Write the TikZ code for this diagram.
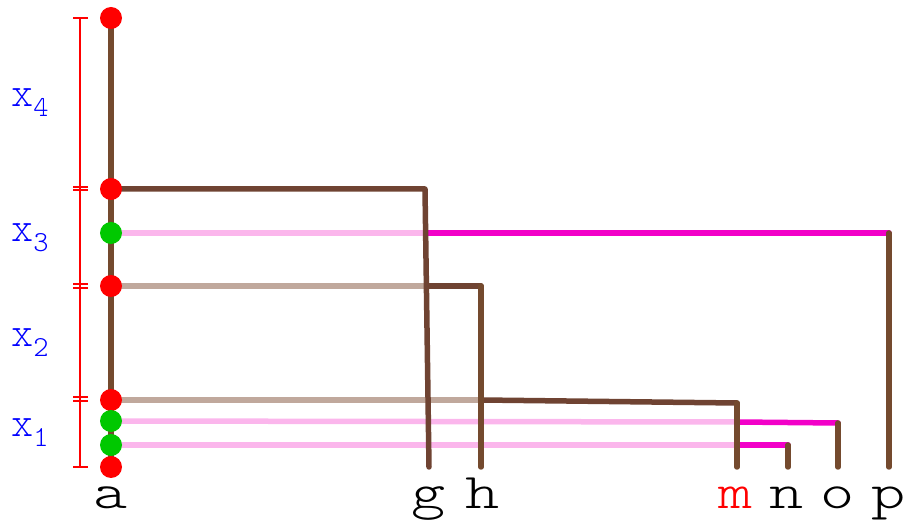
\documentclass[tikz,border=0pt]{standalone}
\definecolor{trunk}{HTML}{744A2E}
\definecolor{dbrown}{HTML}{6F4332}
\definecolor{taupe}{HTML}{C0A89C}
\definecolor{lpink}{HTML}{FBB6EC}
\definecolor{mag}{HTML}{F200C8}
\definecolor{rdot}{HTML}{FF0000}
\definecolor{gdot}{HTML}{00C800}
\newcommand{\xsub}[1]{x\raisebox{-10pt}{\fontsize{29}{29}\selectfont #1}}
\tikzset{
  reddot/.style={circle,fill=rdot,inner sep=0pt,minimum size=22pt},
  greendot/.style={circle,fill=gdot,inner sep=0pt,minimum size=22pt},
  seg/.style={line width=5.5pt,line cap=round,line join=round},
  flat/.style={line width=5.5pt,line cap=butt},
  dim/.style={draw=red,line width=1.4pt},
  leaf/.style={inner sep=0pt,anchor=base,font=\ttfamily\fontseries{l}\fontsize{50}{50}\selectfont},
  xlab/.style={inner sep=0pt,anchor=base west,text=blue,font=\ttfamily\fontseries{l}\fontsize{42}{42}\selectfont},
}
\begin{document}
\begin{tikzpicture}[x=1pt,y=-1pt]
\useasboundingbox (0,0) rectangle (906,521);
% coordinates along the trunk
\coordinate (t0) at (111,18);
\coordinate (t1) at (111,189);
\coordinate (t2) at (111,233);
\coordinate (t3) at (111,286);
\coordinate (t4) at (111,400);
\coordinate (t5) at (111,421);
\coordinate (t6) at (111,445);
\coordinate (t7) at (111,467);
% junction / corner coordinates
\coordinate (g1) at (425,189);
\coordinate (gb) at (429,467);
\coordinate (j3) at (427,233);
\coordinate (p1) at (889,233);
\coordinate (pb) at (889,467);
\coordinate (j2) at (427,286);
\coordinate (h1) at (481,286);
\coordinate (hb) at (481,467);
\coordinate (j4) at (481,400);
\coordinate (m1) at (737,403);
\coordinate (mb) at (737,467);
\coordinate (j5) at (737,422);
\coordinate (o1) at (838,423);
\coordinate (ob) at (838,467);
\coordinate (j6) at (737,445);
\coordinate (n1) at (788,445);
\coordinate (nb) at (788,467);
% trunk
\draw[flat,draw=trunk] (t0) -- (t7);
% horizontal segments
\draw[flat,draw=lpink] (t2) -- (j3);
\draw[seg,draw=mag] (j3) -- (p1);
\draw[flat,draw=taupe] (t3) -- (j2);
\draw[seg,draw=dbrown] (j2) -- (h1);
\draw[flat,draw=taupe] (t4) -- (j4);
\draw[seg,draw=dbrown] (j4) -- (m1);
\draw[flat,draw=lpink] (t5) -- (j5);
\draw[seg,draw=mag] (j5) -- (o1);
\draw[flat,draw=lpink] (t6) -- (j6);
\draw[seg,draw=mag] (j6) -- (n1);
% verticals
\draw[seg,draw=dbrown] (t1) -- (g1) -- (gb);
\draw[seg,draw=trunk] (h1) -- (hb);
\draw[seg,draw=trunk] (m1) -- (mb);
\draw[seg,draw=trunk] (o1) -- (ob);
\draw[seg,draw=trunk] (n1) -- (nb);
\draw[seg,draw=trunk] (p1) -- (pb);
% dots
\node[reddot] (d0) at (t0) {};
\node[reddot] (d1) at (t1) {};
\node[greendot] (d2) at (t2) {};
\node[reddot] (d3) at (t3) {};
\node[reddot] (d4) at (t4) {};
\node[greendot] (d5) at (t5) {};
\node[greendot] (d6) at (t6) {};
\node[reddot] (d7) at (t7) {};
% dimension line
\coordinate (r0) at (80,18);
\coordinate (r7) at (80,467);
\draw[dim] (r0) -- (r7);
\foreach \yy in {18,187,190,284,288,397,401,467}{
  \draw[dim] (73,\yy) -- (88,\yy);
}
% interval labels
\node[xlab] (x4) at (11,107) {\xsub{4}};
\node[xlab] (x3) at (11,242) {\xsub{3}};
\node[xlab] (x2) at (11,347) {\xsub{2}};
\node[xlab] (x1) at (11,437) {\xsub{1}};
% leaf labels
\node[leaf] (la) at (111,509) {\scalebox{1.3}[1]{a}};
\node[leaf] (lg) at (429,509) {\scalebox{1.3}[1]{g}};
\node[leaf] (lh) at (483,509) {\scalebox{1.3}[1]{h}};
\node[leaf,text=red] (lm) at (736,509) {\scalebox{1.3}[1]{m}};
\node[leaf] (ln) at (787,509) {\scalebox{1.3}[1]{n}};
\node[leaf] (lo) at (838,509) {\scalebox{1.3}[1]{o}};
\node[leaf] (lp) at (889,509) {\scalebox{1.3}[1]{p}};
\end{tikzpicture}
\end{document}
